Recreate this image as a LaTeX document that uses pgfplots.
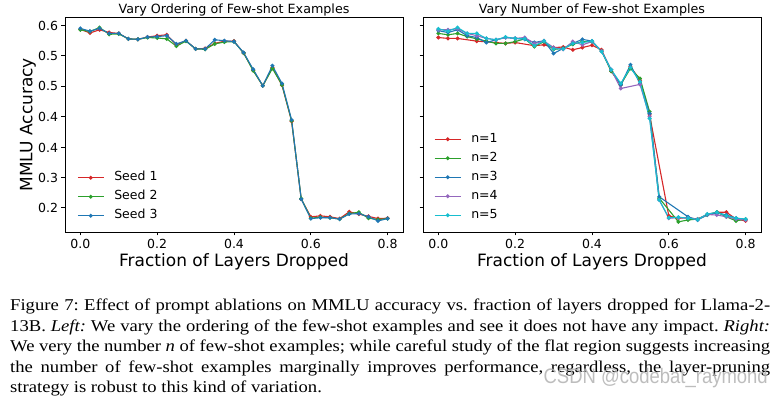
\documentclass[border=0pt]{standalone}
\usepackage{pgfplots}
\pgfplotsset{compat=1.18}
\usepackage{fontspec}
\setmainfont{Liberation Serif}[FakeStretch=1.13]
\newfontfamily\dejavu{DejaVu Sans}
\newfontfamily\wmfont{Liberation Sans}[FakeStretch=0.88]
\definecolor{tred}{HTML}{D62728}
\definecolor{tgreen}{HTML}{2CA02C}
\definecolor{tblue}{HTML}{1F77B4}
\definecolor{tpurple}{HTML}{9467BD}
\definecolor{tcyan}{HTML}{17BECF}
\pgfplotsset{
 panel/.style={
  scale only axis, width=338pt, height=214.5pt,
  xmin=-0.04, xmax=0.84, ymin=0.1466, ymax=0.618,
  xtick={0,0.2,0.4,0.6,0.8}, xticklabels={0.0,0.2,0.4,0.6,0.8},
  ytick={0.6,0.534,0.4675,0.4004,0.3319,0.2659,0.2},
  tick align=outside, major tick length=3.5pt,
  xtick pos=bottom, ytick pos=left,
  tick style={black, line width=0.8pt},
  axis line style={line width=0.9pt},
  ticklabel style={font=\dejavu\fontsize{12.5pt}{15pt}\selectfont},
  /pgf/number format/assume math mode=true,
  label style={font=\dejavu\fontsize{17pt}{20pt}\selectfont},
  every axis title shift=0pt,
  title style={font=\dejavu\fontsize{12.7pt}{14pt}\selectfont, at={(axis description cs:0.5,1.0165)}, anchor=base},
  xlabel style={at={(axis description cs:0.5,-0.1618)}, anchor=base},
  legend cell align=left,
  legend style={draw=none, fill=none, inner sep=0pt, row sep=7pt, column sep=10pt,
    font=\dejavu\fontsize{12.5pt}{15pt}\selectfont,
    nodes={inner sep=0pt, text height=9pt, text depth=3pt}},
  legend image code/.code={\draw[mark repeat=2,mark phase=2] plot coordinates {(0pt,0pt) (13pt,0pt) (26pt,0pt)};},
  every axis plot/.append style={line width=1.1pt, mark=*, mark size=1.4pt},
 }
}
\begin{document}
\begin{tikzpicture}
\useasboundingbox (0,0) rectangle (780pt,401pt);
% Left panel
\begin{axis}[panel, at={(65pt,169pt)}, anchor=south west,
  title={Vary Ordering of Few-shot Examples},
  xlabel={Fraction of Layers Dropped},
  ylabel={MMLU Accuracy},
  ylabel style={at={(axis description cs:-0.1095,0.5)}, anchor=center},
  yticklabels={0.6,0.5,0.5,0.4,0.4,0.3,0.2},
  legend style={at={(axis description cs:0.0355,0.282)}, anchor=north west}]
\addplot[color=tred] coordinates {(0,0.592)(0.025,0.584)(0.05,0.591)(0.075,0.585)(0.1,0.583)(0.125,0.571)(0.15,0.570)(0.175,0.575)(0.2,0.578)(0.225,0.580)(0.25,0.558)(0.275,0.567)(0.3,0.549)(0.325,0.550)(0.35,0.561)(0.375,0.566)(0.4,0.566)(0.425,0.540)(0.45,0.502)(0.475,0.468)(0.5,0.508)(0.525,0.469)(0.55,0.390)(0.575,0.219)(0.6,0.180)(0.625,0.182)(0.65,0.180)(0.675,0.176)(0.7,0.191)(0.725,0.186)(0.75,0.181)(0.775,0.176)(0.8,0.177)};
\addlegendentry{Seed 1}
\addplot[color=tgreen] coordinates {(0,0.591)(0.025,0.587)(0.05,0.596)(0.075,0.581)(0.1,0.582)(0.125,0.571)(0.15,0.570)(0.175,0.574)(0.2,0.573)(0.225,0.571)(0.25,0.555)(0.275,0.566)(0.3,0.549)(0.325,0.548)(0.35,0.560)(0.375,0.564)(0.4,0.565)(0.425,0.540)(0.45,0.501)(0.475,0.468)(0.5,0.506)(0.525,0.470)(0.55,0.391)(0.575,0.220)(0.6,0.177)(0.625,0.179)(0.65,0.178)(0.675,0.175)(0.7,0.187)(0.725,0.190)(0.75,0.177)(0.775,0.174)(0.8,0.176)};
\addlegendentry{Seed 2}
\addplot[color=tblue] coordinates {(0,0.594)(0.025,0.588)(0.05,0.594)(0.075,0.583)(0.1,0.583)(0.125,0.571)(0.15,0.570)(0.175,0.575)(0.2,0.576)(0.225,0.578)(0.25,0.560)(0.275,0.567)(0.3,0.549)(0.325,0.549)(0.35,0.569)(0.375,0.567)(0.4,0.565)(0.425,0.541)(0.45,0.504)(0.475,0.468)(0.5,0.512)(0.525,0.473)(0.55,0.393)(0.575,0.219)(0.6,0.176)(0.625,0.178)(0.65,0.178)(0.675,0.175)(0.7,0.186)(0.725,0.187)(0.75,0.180)(0.775,0.171)(0.8,0.176)};
\addlegendentry{Seed 3}
\end{axis}
% Right panel
\begin{axis}[panel, at={(423pt,169pt)}, anchor=south west,
  title={Vary Number of Few-shot Examples},
  xlabel={Fraction of Layers Dropped},
  yticklabels={},
  legend style={at={(axis description cs:0.0325,0.4615)}, anchor=north west}]
\addplot[color=tred] coordinates {(0,0.574)(0.025,0.572)(0.05,0.572)(0.1,0.566)(0.15,0.563)(0.175,0.561)(0.2,0.563)(0.25,0.556)(0.275,0.558)(0.3,0.552)(0.325,0.553)(0.35,0.547)(0.375,0.552)(0.4,0.557)(0.425,0.547)(0.45,0.500)(0.475,0.470)(0.5,0.510)(0.525,0.480)(0.55,0.404)(0.6,0.182)(0.625,0.177)(0.65,0.178)(0.675,0.175)(0.7,0.185)(0.725,0.190)(0.75,0.190)(0.775,0.175)(0.8,0.171)};
\addlegendentry{n=1}
\addplot[color=tgreen] coordinates {(0,0.583)(0.025,0.580)(0.05,0.583)(0.075,0.576)(0.1,0.571)(0.125,0.566)(0.15,0.561)(0.175,0.561)(0.2,0.565)(0.225,0.571)(0.25,0.554)(0.275,0.565)(0.3,0.548)(0.325,0.550)(0.35,0.559)(0.375,0.565)(0.4,0.565)(0.425,0.544)(0.45,0.500)(0.475,0.471)(0.5,0.506)(0.525,0.484)(0.55,0.411)(0.575,0.221)(0.625,0.169)(0.65,0.173)(0.675,0.175)(0.7,0.184)(0.725,0.190)(0.75,0.180)(0.775,0.171)(0.8,0.175)};
\addlegendentry{n=2}
\addplot[color=tblue] coordinates {(0,0.589)(0.025,0.585)(0.05,0.591)(0.075,0.578)(0.1,0.574)(0.125,0.563)(0.15,0.569)(0.175,0.574)(0.2,0.572)(0.225,0.570)(0.25,0.563)(0.275,0.567)(0.3,0.539)(0.325,0.550)(0.35,0.561)(0.375,0.570)(0.4,0.566)(0.425,0.544)(0.45,0.503)(0.475,0.470)(0.5,0.514)(0.525,0.473)(0.55,0.407)(0.575,0.224)(0.65,0.180)(0.675,0.173)(0.7,0.184)(0.725,0.189)(0.75,0.184)(0.775,0.177)(0.8,0.174)};
\addlegendentry{n=3}
\addplot[color=tpurple] coordinates {(0,0.591)(0.025,0.591)(0.05,0.593)(0.075,0.583)(0.1,0.578)(0.125,0.572)(0.15,0.569)(0.175,0.574)(0.2,0.572)(0.225,0.574)(0.25,0.561)(0.275,0.566)(0.3,0.552)(0.325,0.548)(0.35,0.565)(0.375,0.558)(0.4,0.565)(0.425,0.544)(0.45,0.503)(0.475,0.462)(0.525,0.471)(0.55,0.400)(0.575,0.217)(0.6,0.177)(0.625,0.178)(0.65,0.177)(0.675,0.175)(0.7,0.185)(0.725,0.184)(0.75,0.180)(0.775,0.175)(0.8,0.173)};
\addlegendentry{n=4}
\addplot[color=tcyan] coordinates {(0,0.593)(0.025,0.588)(0.05,0.596)(0.075,0.583)(0.1,0.583)(0.125,0.572)(0.15,0.569)(0.175,0.575)(0.2,0.572)(0.225,0.571)(0.25,0.556)(0.275,0.566)(0.3,0.549)(0.325,0.549)(0.35,0.561)(0.375,0.563)(0.4,0.566)(0.425,0.543)(0.45,0.503)(0.475,0.473)(0.5,0.508)(0.525,0.477)(0.55,0.396)(0.575,0.217)(0.6,0.178)(0.625,0.179)(0.65,0.177)(0.675,0.174)(0.7,0.186)(0.725,0.190)(0.75,0.182)(0.775,0.177)(0.8,0.175)};
\addlegendentry{n=5}
\end{axis}
% Caption
\node[anchor=base west, inner sep=0pt] at (10pt,90.5pt) {\begin{minipage}[t]{760pt}\fontsize{16.5pt}{20.6pt}\selectfont\frenchspacing
\hbox to \linewidth{Figure 7: Effect of prompt ablations on MMLU accuracy vs.\ fraction of layers dropped for Llama-2-}
\hbox to \linewidth{13B. \textit{Left:} We vary the ordering of the few-shot examples and see it does not have any impact. \textit{Right:}}
\hbox to \linewidth{We very the number \textit{n} of few-shot examples; while careful study of the flat region suggests increasing}
\hbox to \linewidth{the number of few-shot examples marginally improves performance, regardless, the layer-pruning}
\hbox{strategy is robust to this kind of variation.}
\end{minipage}};
\node[anchor=base east, inner sep=0pt, text=black!30, opacity=0.85, font=\wmfont\fontsize{21pt}{21pt}\selectfont] at (768pt,17pt) {CSDN @codebat\_raymond};
\end{tikzpicture}
\end{document}
